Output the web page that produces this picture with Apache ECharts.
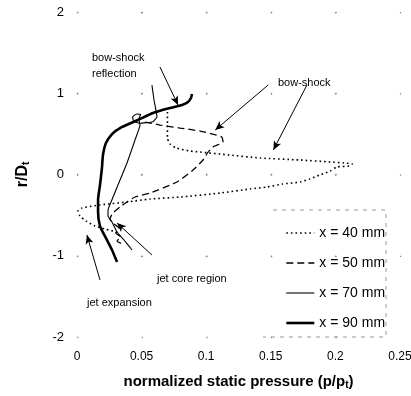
<!DOCTYPE html>
<html>
<head>
<meta charset="utf-8">
<script src="https://cdn.jsdelivr.net/npm/echarts@6/dist/echarts.min.js"></script>
<style>html,body{margin:0;padding:0;background:#fff}#c{width:411px;height:396px}</style>
</head>
<body>
<div id="c"></div>
<script>
const xTicks = [0, 0.05, 0.1, 0.15, 0.2, 0.25];
const yTicks = [-2, -1, 0, 1, 2];
const seriesNames = ['x = 40 mm', 'x = 50 mm', 'x = 70 mm', 'x = 90 mm'];

const p40 = [
  [0.070, 0.77], [0.070, 0.61], [0.070, 0.45], [0.072, 0.375], [0.077, 0.326],
  [0.0875, 0.289], [0.095, 0.277], [0.118, 0.240], [0.142, 0.203], [0.173, 0.178],
  [0.196, 0.154], [0.207, 0.142], [0.213, 0.129], [0.211, 0.105], [0.201, 0.092],
  [0.196, 0.043], [0.188, -0.006], [0.180, -0.055], [0.173, -0.092], [0.159, -0.117],
  [0.147, -0.154], [0.134, -0.178], [0.111, -0.228], [0.080, -0.277], [0.0565, -0.302],
  [0.0387, -0.338], [0.0178, -0.375], [0.0039, -0.412], [0.0008, -0.449], [0.0023, -0.511],
  [0.0070, -0.572], [0.0139, -0.634], [0.0217, -0.671], [0.031, -0.708]
];
const p50 = [
  [0.0526, 0.646], [0.0642, 0.609], [0.0797, 0.572], [0.0952, 0.535], [0.105, 0.498],
  [0.112, 0.462], [0.113, 0.400], [0.105, 0.338], [0.101, 0.265], [0.0975, 0.178],
  [0.0898, 0.055], [0.0774, -0.092], [0.0565, -0.228], [0.0449, -0.277], [0.0387, -0.338],
  [0.0333, -0.400], [0.0279, -0.474], [0.0255, -0.548], [0.0286, -0.609], [0.0325, -0.658],
  [0.030, -0.720], [0.034, -0.769], [0.031, -0.818], [0.035, -0.855]
];
const p70 = [
  [0.058, 1.10], [0.0596, 0.917], [0.0619, 0.708], [0.0588, 0.650], [0.0488, 0.630],
  [0.0440, 0.655], [0.0430, 0.705], [0.0460, 0.745], [0.0492, 0.740], [0.0478, 0.680],
  [0.0488, 0.609], [0.0449, 0.425], [0.0387, 0.142], [0.0317, -0.129], [0.0279, -0.277],
  [0.024, -0.437], [0.024, -0.511], [0.0271, -0.585], [0.031, -0.708], [0.0364, -0.806],
  [0.0426, -0.929]
];
const p90 = [
  [0.031, -1.077], [0.0271, -0.929], [0.0224, -0.782], [0.0178, -0.634], [0.0163, -0.462],
  [0.0163, -0.314], [0.0178, -0.129], [0.0193, 0.080], [0.0201, 0.240], [0.0224, 0.388],
  [0.0271, 0.498], [0.0333, 0.572], [0.0472, 0.671], [0.0588, 0.757], [0.072, 0.818],
  [0.0813, 0.855], [0.0859, 0.892], [0.0882, 0.942], [0.089, 0.991]
];

const FONT = "'Liberation Sans', Arial, Helvetica, sans-serif";
const chart = echarts.init(document.getElementById('c'), null, {renderer: 'canvas'});

const styles = [
  {color: '#000', width: 1.6, type: [1.6, 3]},
  {color: '#000', width: 1.3, type: [7, 4]},
  {color: '#000', width: 1.1, type: 'solid'},
  {color: '#000', width: 2.6, type: 'solid'}
];
const smooths = [0.2, 0.2, 0.1, 0.2];

const arrowLines = [
  [{coord: [0.0642, 1.323]}, {coord: [0.0782, 0.855]}],
  [{coord: [0.148, 1.102]}, {coord: [0.107, 0.548]}],
  [{coord: [0.178, 1.102]}, {coord: [0.152, 0.302]}],
  [{coord: [0.058, -0.991]}, {coord: [0.031, -0.597]}],
  [{coord: [0.0178, -1.298]}, {coord: [0.0077, -0.745]}]
];

function txt(text, x, y) {
  return {type: 'text', left: x, top: y, silent: true,
    style: {text: text, fill: '#000', font: '11px ' + FONT, textVerticalAlign: 'middle'}};
}

const dataSets = [p40, p50, p70, p90];
const series = seriesNames.map((n, i) => ({
  name: n, type: 'line', data: dataSets[i], showSymbol: false, symbol: 'none',
  smooth: smooths[i], lineStyle: styles[i], itemStyle: {color: '#000'}
}));
series[3].markLine = {silent: true, symbol: ['none', 'arrow'], symbolSize: [6, 9],
  label: {show: false}, lineStyle: {color: '#000', width: 1, type: 'solid'},
  emphasis: {disabled: true}, data: arrowLines};

chart.setOption({
  animation: false,
  backgroundColor: '#fff',
  grid: {left: 77, right: 11, top: 12, bottom: 59, containLabel: false, outerBoundsMode: 'none'},
  xAxis: {
    type: 'value', min: xTicks[0], max: xTicks[xTicks.length - 1], interval: 0.05,
    name: 'normalized static pressure (p/p{s|t})', nameLocation: 'middle', nameGap: 37,
    nameTextStyle: {fontFamily: FONT, fontSize: 15, fontWeight: 'bold', color: '#000',
      rich: {s: {fontFamily: FONT, fontSize: 10, fontWeight: 'bold', color: '#000', verticalAlign: 'bottom', padding: [6, 0, 0, 0]}}},
    axisLine: {show: false}, axisTick: {show: false},
    axisLabel: {fontFamily: FONT, fontSize: 12, color: '#000', margin: 14},
    splitLine: {show: true, lineStyle: {color: '#888', width: 1.3, type: [1.3, 79.95]}}
  },
  yAxis: {
    type: 'value', min: yTicks[0], max: yTicks[yTicks.length - 1], interval: 1,
    name: '{b|r/D}{s|t}', nameLocation: 'middle', nameGap: 46,
    nameTextStyle: {rich: {
      b: {fontFamily: FONT, fontSize: 16, fontWeight: 'bold', color: '#000'},
      s: {fontFamily: FONT, fontSize: 10, fontWeight: 'bold', color: '#000', verticalAlign: 'bottom', padding: [6, 0, 0, 0]}}},
    axisLine: {show: false}, axisTick: {show: false},
    axisLabel: {fontFamily: FONT, fontSize: 13, color: '#000', margin: 13},
    splitLine: {show: true, lineStyle: {color: '#888', width: 1.3, type: [1.3, 63.3]}}
  },
  legend: {
    orient: 'vertical', left: 280, top: 221, itemWidth: 28, itemHeight: 14, itemGap: 16,
    itemStyle: {opacity: 0},
    textStyle: {fontFamily: FONT, fontSize: 14, color: '#000'},
    data: seriesNames.map((n, i) => ({name: n, itemStyle: {opacity: 0},
      lineStyle: {color: '#000', width: styles[i].width, type: styles[i].type}}))
  },
  series: series,
  graphic: [
    txt('bow-shock', 92, 52),
    txt('reflection', 92, 68),
    txt('bow-shock', 278, 77),
    txt('jet core region', 157, 273),
    txt('jet expansion', 87, 297),
    {type: 'polyline', silent: true, shape: {points: [[273, 210], [386, 210], [386, 337], [263, 337]]},
      style: {fill: null, stroke: '#999', lineWidth: 1, lineDash: [4, 5]}}
  ]
});
</script>
</body>
</html>
